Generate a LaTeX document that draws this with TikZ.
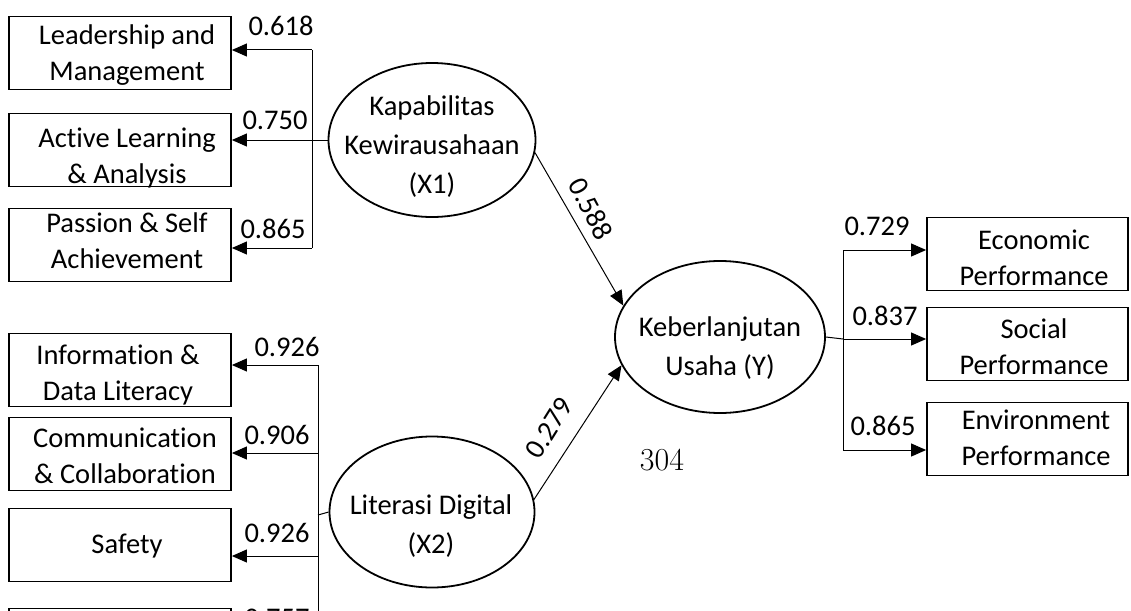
\documentclass[tikz,border=0pt]{standalone}
\usepackage{fontspec}
\newfontfamily\calfont[Ligatures={NoCommon}]{Carlito}
\usetikzlibrary{arrows.meta,shapes.geometric}
\begin{document}
\begin{tikzpicture}[x=1pt,y=-1pt,
  box/.style={draw, line width=1.8pt, minimum width=222pt, minimum height=73pt, inner sep=0pt},
  rbox/.style={draw, line width=1.8pt, minimum width=201pt, minimum height=73pt, inner sep=0pt},
  lat/.style={draw, ellipse, line width=1.8pt, inner sep=0pt},
  txt/.style={font=\calfont\fontsize{28.5}{36}\selectfont, align=center, inner sep=0pt},
  etxt/.style={font=\calfont\fontsize{28.5}{39}\selectfont, align=center, inner sep=0pt},
  num/.style={font=\calfont\fontsize{28.5}{34}\selectfont, inner sep=0pt},
  conn/.style={line width=1pt},
  arr/.style={conn, -{Triangle[length=15pt,width=13pt]}}]
\useasboundingbox (0,0) rectangle (1131,610);
\clip (0,0) rectangle (1131,610);

% left upper indicator boxes
\node[box] (b1) at (120,53) {};
\node[txt] (t1) at (127,55) {Leadership and\\Management};
\node[box] (b2) at (120,150) {};
\node[txt] (t2) at (127,158) {Active Learning\\\& Analysis};
\node[box] (b3) at (120,245) {};
\node[txt] (t3) at (127,241) {Passion \& Self\\Achievement};

% left lower indicator boxes
\node[box] (b4) at (120,370) {};
\node[txt] (t4) at (118,375) {Information \&\\Data Literacy};
\node[box] (b5) at (120,454) {};
\node[txt] (t5) at (125,456) {Communication\\\& Collaboration};
\node[box] (b6) at (120,545) {};
\node[txt] (t6) at (127,546) {Safety};
\node[box] (b7) at (120,645) {};

% right indicator boxes
\node[rbox] (e1) at (1027.5,254) {};
\node[txt] (u1) at (1034,258) {Economic\\Performance};
\node[rbox] (e2) at (1027.5,344) {};
\node[txt] (u2) at (1034,347) {Social\\Performance};
\node[rbox] (e3) at (1027.5,439) {};
\node[txt] (u3) at (1036,438) {Environment\\Performance};

% latent variables
\node[lat, minimum width=207pt, minimum height=154pt] (X1) at (432,140) {};
\node[etxt] (X1t) at (432,147) {Kapabilitas\\Kewirausahaan\\(X1)};
\node[lat, minimum width=205pt, minimum height=151pt] (X2) at (432,512) {};
\node[etxt] (X2t) at (431,526) {Literasi Digital\\(X2)};
\node[lat, minimum width=210pt, minimum height=152pt] (Y) at (720,337) {};
\node[etxt] (Yt) at (720,348) {Keberlanjutan\\Usaha (Y)};

% X1 loadings
\coordinate (j0) at (312,140);
\coordinate (j1) at (312,50);
\coordinate (j3) at (312,248);
\draw[conn] (X1.west) -- (j0);
\draw[conn] (j1) -- (j3);
\draw[arr] (j1) -- (j1 -| b1.east);
\draw[arr] (j0) -- (j0 -| b2.east);
\draw[arr] (j3) -- (j3 -| b3.east);
\node[num] (l1) at (281,26) {0.618};
\node[num] (l2) at (275,120) {0.750};
\node[num] (l3) at (273,229) {0.865};

% X2 loadings
\coordinate (k0) at (318,515);
\coordinate (k1) at (318,365);
\coordinate (k2) at (318,453);
\coordinate (k3) at (318,556);
\coordinate (k4) at (318,640);
\draw[conn] (X2.west) -- (k0);
\draw[conn] (k1) -- (k4);
\draw[arr] (k1) -- (k1 -| b4.east);
\draw[arr] (k2) -- (k2 -| b5.east);
\draw[arr] (k3) -- (k3 -| b6.east);
\node[num] (l4) at (287,347) {0.926};
\node[num] (l5) at (277,435) {0.906};
\node[num] (l6) at (277,533) {0.926};
\node[num] (l7) at (277,618) {0.757};

% Y loadings
\coordinate (m0) at (843,339);
\coordinate (m1) at (843,250);
\coordinate (m3) at (843,450);
\draw[conn] (Y.east) -- (m0);
\draw[conn] (m1) -- (m3);
\draw[arr] (m1) -- (m1 -| e1.west);
\draw[arr] (m0) -- (m0 -| e2.west);
\draw[arr] (m3) -- (m3 -| e3.west);
\node[num] (l8) at (877,226) {0.729};
\node[num] (l9) at (885,316) {0.837};
\node[num] (l10) at (883,426) {0.865};

% structural paths
\draw[arr] (X1.-7) -- (Y.162);
\draw[arr] (X2.7) -- (Y.196);
\node[num, rotate=-62] (p1) at (591,209) {0.588};
\node[num, rotate=58] (p2) at (549,428) {0.279};

% page number
\node[font=\fontsize{32}{36}\selectfont, inner sep=0pt] (pg) at (662,460) {304};
\end{tikzpicture}
\end{document}
